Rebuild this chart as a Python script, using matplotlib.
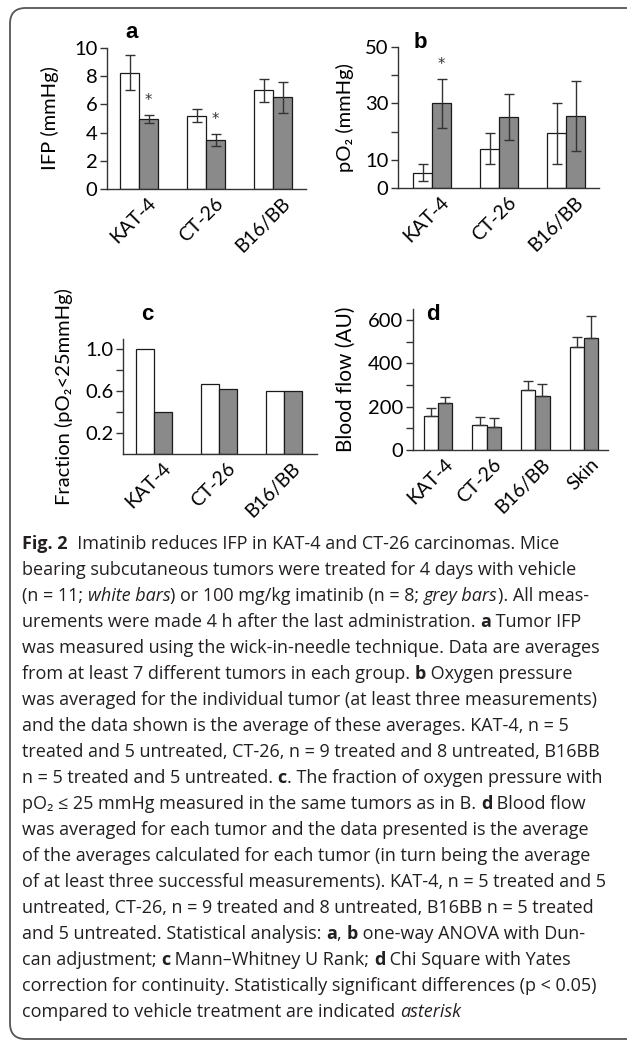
import matplotlib
matplotlib.use("Agg")
import matplotlib.pyplot as plt
from matplotlib.patches import FancyBboxPatch
import numpy as np

W, H = 627, 1040
CHART_FONT = ["Lato", "DejaVu Sans"]
CAP_FONT = ["Open Sans", "DejaVu Sans"]

tumors = ["KAT-4", "CT-26", "B16/BB"]
tumors_d = ["KAT-4", "CT-26", "B16/BB", "Skin"]

# a: IFP (mmHg)
ifp_vehicle = [8.25, 5.2, 7.0]
ifp_vehicle_err = [1.25, 0.45, 0.83]
ifp_imatinib = [4.95, 3.47, 6.5]
ifp_imatinib_err = [0.28, 0.43, 1.08]
ifp_sig = [True, True, False]

# b: pO2 (mmHg)
po2_vehicle = [5.4, 14.0, 19.4]
po2_vehicle_err = [3.05, 5.5, 10.9]
po2_imatinib = [30.0, 25.1, 25.5]
po2_imatinib_err = [8.8, 8.2, 12.3]
po2_sig = [True, False, False]

# c: fraction pO2 < 25 mmHg
frac_vehicle = [1.0, 0.667, 0.6]
frac_imatinib = [0.4, 0.625, 0.6]

# d: blood flow (AU), upper error only
flow_vehicle = [158, 115, 278, 474]
flow_vehicle_err = [36, 36, 39, 49]
flow_imatinib = [218, 108, 248, 518]
flow_imatinib_err = [25, 38, 58, 100]

caption = [
    [("Fig. 2", "b"), ("  Imatinib reduces IFP in KAT-4 and CT-26 carcinomas. Mice", "n")],
    [("bearing subcutaneous tumors were treated for 4 days with vehicle", "n")],
    [("(n = 11; ", "n"), ("white bars", "i"), (") or 100 mg/kg imatinib (n = 8; ", "n"), ("grey bars", "i"), ("). All meas-", "n")],
    [("urements were made 4 h after the last administration. ", "n"), ("a", "b"), (" Tumor IFP", "n")],
    [("was measured using the wick-in-needle technique. Data are averages", "n")],
    [("from at least 7 different tumors in each group. ", "n"), ("b", "b"), (" Oxygen pressure", "n")],
    [("was averaged for the individual tumor (at least three measurements)", "n")],
    [("and the data shown is the average of these averages. KAT-4, n = 5", "n")],
    [("treated and 5 untreated, CT-26, n = 9 treated and 8 untreated, B16BB", "n")],
    [("n = 5 treated and 5 untreated. ", "n"), ("c", "b"), (". The fraction of oxygen pressure with", "n")],
    [("pO\u2082 \u2264 25 mmHg measured in the same tumors as in B. ", "n"), ("d", "b"), (" Blood flow", "n")],
    [("was averaged for each tumor and the data presented is the average", "n")],
    [("of the averages calculated for each tumor (in turn being the average", "n")],
    [("of at least three successful measurements). KAT-4, n = 5 treated and 5", "n")],
    [("untreated, CT-26, n = 9 treated and 8 untreated, B16BB n = 5 treated", "n")],
    [("and 5 untreated. Statistical analysis: ", "n"), ("a", "b"), (", ", "n"), ("b", "b"), (" one-way ANOVA with Dun-", "n")],
    [("can adjustment; ", "n"), ("c", "b"), (" Mann\u2013Whitney U Rank; ", "n"), ("d", "b"), (" Chi Square with Yates", "n")],
    [("correction for continuity. Statistically significant differences (p < 0.05)", "n")],
    [("compared to vehicle treatment are indicated ", "n"), ("asterisk", "i")],
]

plt.rcParams["font.family"] = CHART_FONT
fig = plt.figure(figsize=(W / 100, H / 100), dpi=100)

WHITE = "white"
GREY = "#8a8a8a"
EDGE = "#1a1a1a"
SPINE = "#333333"


def make_ax(x0, x1, ytop, ybot):
    ax = fig.add_axes([x0 / W, 1 - ybot / H, (x1 - x0) / W, (ybot - ytop) / H])
    for s in ["top", "right"]:
        ax.spines[s].set_visible(False)
    for s in ["left", "bottom"]:
        ax.spines[s].set_color(SPINE)
        ax.spines[s].set_linewidth(1.0)
    ax.tick_params(axis="y", length=5, width=1, color=SPINE, labelsize=14.5, pad=2)
    ax.tick_params(axis="x", length=0, labelsize=14, pad=4)
    return ax


def bars(ax, v1, v2, e1=None, e2=None, w=0.28, sig=None, upper_only=False):
    x = np.arange(len(v1))
    ekw = dict(ecolor="#333333", elinewidth=1, capsize=3.5, capthick=1)
    if upper_only:
        e1 = [np.zeros(len(v1)), e1]
        e2 = [np.zeros(len(v2)), e2]
    ax.bar(x - w / 2, v1, w, color=WHITE, edgecolor=EDGE, linewidth=0.9,
           yerr=e1, error_kw=ekw, zorder=2)
    ax.bar(x + w / 2, v2, w, color=GREY, edgecolor=EDGE, linewidth=0.9,
           yerr=e2, error_kw=ekw, zorder=2)
    if sig is not None:
        for i, s in enumerate(sig):
            if s:
                ax.annotate("*", (x[i] + w / 2, v2[i] + e2[i]), xytext=(0, 5),
                            textcoords="offset points", ha="center", va="bottom",
                            fontsize=10.5, color="#333333", family=["DejaVu Sans"])
    return x


def xlabels(ax, x, labels):
    ax.set_xticks(x)
    ax.set_xticklabels(labels, rotation=45, ha="right", va="top",
                       rotation_mode="anchor")


# panel a
ax = make_ax(107, 306, 48, 189)
x = bars(ax, ifp_vehicle, ifp_imatinib, ifp_vehicle_err, ifp_imatinib_err, sig=ifp_sig)
ax.set_xlim(-0.48, 2.49)
ax.set_ylim(0, 10)
ax.set_yticks([0, 2, 4, 6, 8, 10])
xlabels(ax, x + 0.12, tumors)
ax.set_ylabel("IFP (mmHg)", fontsize=14.5, labelpad=11)
fig.text(132 / W, 1 - 33 / H, "a", fontsize=16, fontweight="bold",
         family=["Liberation Sans"], ha="center", va="center")

# panel b
ax = make_ax(398, 599, 47, 188)
x = bars(ax, po2_vehicle, po2_imatinib, po2_vehicle_err, po2_imatinib_err, sig=po2_sig)
ax.set_xlim(-0.51, 2.49)
ax.set_ylim(0, 50)
ax.set_yticks([0, 10, 20, 30, 40, 50])
ax.set_yticklabels(["0", "10", "", "30", "", "50"])
xlabels(ax, x + 0.12, tumors)
ax.set_ylabel("pO\u2082 (mmHg)", fontsize=14.5, labelpad=8)
fig.text(420 / W, 1 - 43 / H, "b", fontsize=16, fontweight="bold",
         family=["Liberation Sans"], ha="center", va="center")

# panel c
ax = make_ax(123, 317, 339, 454)
x = bars(ax, frac_vehicle, frac_imatinib)
ax.set_xlim(-0.48, 2.51)
ax.set_ylim(0, 1.1)
ax.set_yticks([0.2, 0.4, 0.6, 0.8, 1.0])
ax.set_yticklabels(["0.2", "", "0.6", "", "1.0"])
xlabels(ax, x + 0.12, tumors)
ax.set_ylabel("Fraction (pO\u2082<25mmHg)", fontsize=14.5, labelpad=9)
fig.text(147 / W, 1 - 315 / H, "c", fontsize=16, fontweight="bold",
         family=["Liberation Sans"], ha="center", va="center")

# panel d
ax = make_ax(413, 608, 309, 450)
x = bars(ax, flow_vehicle, flow_imatinib, flow_vehicle_err, flow_imatinib_err,
         w=0.29, upper_only=True)
ax.set_xlim(-0.51, 3.49)
ax.set_ylim(0, 650)
ax.set_yticks([0, 100, 200, 300, 400, 500, 600])
ax.set_yticklabels(["0", "", "200", "", "400", "", "600"])
xlabels(ax, x + 0.12, tumors_d)
ax.set_ylabel("Blood flow (AU)", fontsize=15, labelpad=9)
fig.text(433 / W, 1 - 315 / H, "d", fontsize=16, fontweight="bold",
         family=["Liberation Sans"], ha="center", va="center")

# frame: rounded box, cut off at the right edge
frame = FancyBboxPatch((10 / W, 1 / H), 700 / W, (H - 9) / H,
                       boxstyle="round,pad=0,rounding_size=0.025",
                       transform=fig.transFigure, fill=False,
                       edgecolor="#555555", linewidth=1.3, mutation_aspect=W / H)
fig.add_artist(frame)

# caption
renderer = fig.canvas.get_renderer()


def cap_text(x, y, txt, st, size):
    return fig.text(x / W, 1 - y / H, txt, fontsize=size, family=CAP_FONT,
                    fontweight="bold" if st == "b" else "normal",
                    fontstyle="italic" if st == "i" else "normal",
                    color="#231f20", ha="left", va="center")


# size the caption so the widest line spans x = 22 .. 605
base = 13.0
widest = 0
for segs in caption:
    wsum = 0
    for txt, st in segs:
        t = cap_text(0, 0, txt, st, base)
        wsum += t.get_window_extent(renderer).width
        t.remove()
    widest = max(widest, wsum)
cap_size = base * 583 / widest

line0 = 544
line_h = 26.0
for i, segs in enumerate(caption):
    xpos = 22
    ypos = line0 + i * line_h
    for txt, st in segs:
        t = cap_text(xpos, ypos, txt, st, cap_size)
        xpos += t.get_window_extent(renderer).width

fig.savefig("out.png", dpi=100)
